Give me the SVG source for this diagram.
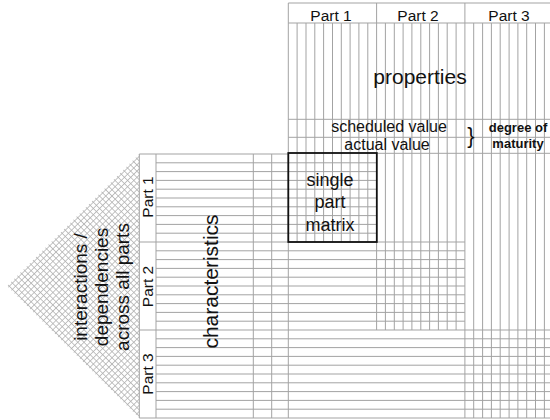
<svg xmlns="http://www.w3.org/2000/svg" width="550" height="420" viewBox="0 0 550 420">
<style>
.g{fill:none;stroke:#a3a3a3;stroke-width:1}
.t{font-family:"Liberation Sans",Arial,sans-serif;fill:#111;text-anchor:middle}
.b{font-weight:bold}
</style>
<defs>
<pattern id="hatch" patternUnits="userSpaceOnUse" width="4.4" height="4.4" patternTransform="rotate(45)">
<path d="M0 2.2H4.4M2.2 0V4.4" stroke="#b0b0b0" stroke-width="0.75" fill="none"/>
</pattern>
</defs>
<rect width="550" height="420" fill="#fff"/>
<g id="interactions">
<polygon points="139.3,154 7,286 139.3,418" fill="url(#hatch)"/>
<text class="t" font-size="19" transform="rotate(-90)"><tspan x="-287" y="87">interactions /</tspan><tspan x="-287" y="108">dependencies</tspan><tspan x="-287" y="129">across all parts</tspan></text>
</g>
<g id="top-grid">
<path class="g" d="M288.3 3V418M376.6 3V330M464.9 3V418
M297.1 23V242M306 23V242M314.8 23V242M323.6 23V242M332.5 23V242M341.3 23V242M350.1 23V242M358.9 23V242M367.8 23V242
M385.4 23V330M394.3 23V330M403.1 23V330M411.9 23V330M420.8 23V330M429.6 23V330M438.4 23V330M447.2 23V330M456.1 23V330
M473.7 23V418M482.6 23V418M491.4 23V418M500.2 23V418M509.1 23V418M517.9 23V418M526.7 23V418M535.5 23V418M544.4 23V418
M288.3 3H550M288.3 23H550M288.3 119.3H550M288.3 137.3H550M376.6 153.3H550"/>
</g>
<g id="left-grid">
<path class="g" d="M139.3 154V418M156 154V418M253.3 154V418M271.7 154V418
M139.3 154H288.3
M156 162.8H376.6M156 171.6H376.6M156 180.4H376.6M156 189.2H376.6M156 198H376.6M156 206.8H376.6M156 215.6H376.6M156 224.4H376.6M156 233.2H376.6
M139.3 242H464.9
M156 250.8H464.9M156 259.6H464.9M156 268.4H464.9M156 277.2H464.9M156 286H464.9M156 294.8H464.9M156 303.6H464.9M156 312.4H464.9M156 321.2H464.9
M139.3 330H550
M156 338.8H550M156 347.6H550M156 356.4H550M156 365.2H550M156 374H550M156 382.8H550M156 391.6H550M156 400.4H550M156 409.2H550
M139.3 418H550"/>
</g>
<g id="headers">
<text class="t" font-size="15.5" x="331" y="20.5">Part 1</text>
<text class="t" font-size="15.5" x="418" y="20.5">Part 2</text>
<text class="t" font-size="15.5" x="509" y="20.5">Part 3</text>
</g>
<g id="properties">
<text class="t" font-size="21" x="420" y="83.5">properties</text>
<text class="t" font-size="16" x="389" y="131.5">scheduled value</text>
<text class="t" font-size="16" x="387" y="150">actual value</text>
<text class="t" font-size="22" x="471" y="143.4">}</text>
<text class="t b" font-size="13" x="518" y="132">degree of</text>
<text class="t b" font-size="13" x="518" y="148">maturity</text>
</g>
<g id="part-labels">
<text class="t" font-size="15.5" transform="rotate(-90)" x="-197" y="153.3">Part 1</text>
<text class="t" font-size="15.5" transform="rotate(-90)" x="-286.5" y="153.3">Part 2</text>
<text class="t" font-size="15.5" transform="rotate(-90)" x="-374" y="153.3">Part 3</text>
</g>
<g id="characteristics">
<text class="t" font-size="21" transform="rotate(-90)" x="-281.5" y="218.3">characteristics</text>
</g>
<g id="single-part-matrix">
<rect x="288.3" y="153" width="88.5" height="89" fill="none" stroke="#111" stroke-width="1.8"/>
<text class="t" font-size="18"><tspan x="330" y="185.5">single</tspan><tspan x="330" y="208.3">part</tspan><tspan x="330" y="230.7">matrix</tspan></text>
</g>
</svg>
